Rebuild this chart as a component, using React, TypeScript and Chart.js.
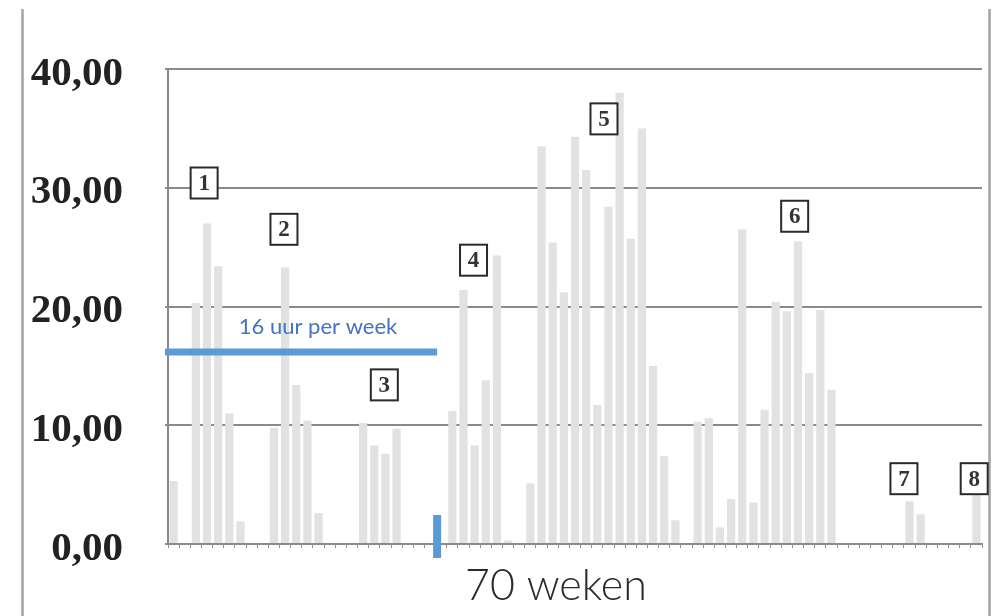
import React, { useEffect, useRef } from "react";
import { Chart, registerables } from "chart.js";

Chart.register(...registerables);

// ---- data ----
const weekLabels: string[] = Array.from({ length: 73 }, (_, i) => String(i + 1));
const hoursPerWeek: number[] = [
  5.3, 0, 20.3, 27, 23.4, 11, 1.9, 0, 0, 9.8, 23.3, 13.4, 10.4, 2.6, 0, 0, 0,
  10.2, 8.3, 7.6, 9.7, 0, 0, 0, 0, 11.2, 21.4, 8.3, 13.8, 24.3, 0.3, 0, 5.1,
  33.5, 25.4, 21.2, 34.3, 31.5, 11.7, 28.4, 38, 25.7, 35, 15, 7.4, 2, 0, 10.3,
  10.6, 1.4, 3.8, 26.5, 3.5, 11.3, 20.4, 19.6, 25.5, 14.4, 19.7, 13, 0, 0, 0,
  0, 0, 0, 3.6, 2.5, 0, 0, 0, 0, 4.4,
];
const yTicks: number[] = [0, 10, 20, 30, 40];
const markerLabels: string[] = ["1", "2", "3", "4", "5", "6", "7", "8"];
const markerWeek: number[] = [2.74, 9.9, 18.9, 26.9, 38.6, 55.7, 65.5, 71.8];
const markerHours: number[] = [30.4, 26.5, 13.4, 23.9, 35.8, 27.6, 5.5, 5.5];
const thresholdHours = 16;
const thresholdEndWeek = 23.5;
const thresholdText = "16 uur per week";
const xAxisText = "70 weken";

const overlayPlugin = {
  id: "overlay",
  afterDraw(chart: any) {
    const { ctx, chartArea } = chart;
    const xs = chart.scales.x;
    const ys = chart.scales.y;
    ctx.save();

    // frame lines of the original screenshot
    ctx.strokeStyle = "#a3a3a3";
    ctx.lineWidth = 2.5;
    ctx.beginPath();
    ctx.moveTo(22.5, 9);
    ctx.lineTo(22.5, 616);
    ctx.moveTo(989.5, 9);
    ctx.lineTo(989.5, 616);
    ctx.stroke();

    // threshold line
    const yT = ys.getPixelForValue(thresholdHours) - 2;
    const xEnd = xs.getPixelForValue(thresholdEndWeek) + 1.5;
    ctx.fillStyle = "#5b9bd5";
    ctx.fillRect(chartArea.left - 3, yT - 3.5, xEnd - chartArea.left + 3, 7);
    // vertical marker at the end
    const y0 = ys.getPixelForValue(0);
    ctx.fillRect(xEnd - 4, y0 - 29, 8, 43);

    ctx.fillStyle = "#4472c4";
    ctx.font = '22px "Lato"';
    ctx.textAlign = "center";
    ctx.textBaseline = "alphabetic";
    ctx.fillText(thresholdText, chartArea.left + 150, yT - 18);

    // x-axis caption
    ctx.fillStyle = "#2b2b2b";
    ctx.font = '300 43px "Lato"';
    ctx.fillText(xAxisText, chartArea.left + 388, y0 + 56);

    // numbered marker boxes
    ctx.font = 'bold 23px "Liberation Serif"';
    ctx.textBaseline = "middle";
    markerLabels.forEach((lab, i) => {
      const cx = xs.getPixelForValue(markerWeek[i]);
      const cy = ys.getPixelForValue(markerHours[i]);
      const w = 27;
      const h = 31;
      ctx.fillStyle = "#ffffff";
      ctx.fillRect(cx - w / 2, cy - h / 2, w, h);
      ctx.strokeStyle = "#2a2a2a";
      ctx.lineWidth = 2;
      ctx.strokeRect(cx - w / 2, cy - h / 2, w, h);
      ctx.fillStyle = "#333333";
      ctx.fillText(lab, cx, cy + 1);
    });

    ctx.restore();
  },
};

export default function App() {
  const canvasRef = useRef<HTMLCanvasElement | null>(null);

  useEffect(() => {
    if (!canvasRef.current) return;
    const chart = new Chart(canvasRef.current, {
      type: "bar",
      data: {
        labels: weekLabels,
        datasets: [
          {
            data: hoursPerWeek,
            backgroundColor: "#e2e2e2",
            borderWidth: 0,
            barPercentage: 0.74,
            categoryPercentage: 1,
          },
        ],
      },
      options: {
        responsive: false,
        animation: false,
        events: [],
        layout: { padding: { top: 69, right: 20, left: 0, bottom: 0 } },
        plugins: {
          legend: { display: false },
          tooltip: { enabled: false },
          title: { display: false },
        },
        scales: {
          x: {
            offset: true,
            grid: {
              display: true,
              drawOnChartArea: false,
              drawTicks: true,
              tickLength: 4,
              color: "#8f8f8f",
              lineWidth: 1,
            },
            border: { display: true, color: "#8a8a8a", width: 2 },
            ticks: { display: false },
            afterFit: (scale: any) => {
              scale.height = 72;
            },
          },
          y: {
            min: 0,
            max: 40,
            afterBuildTicks: (scale: any) => {
              scale.ticks = yTicks.map((v) => ({ value: v }));
            },
            grid: {
              color: "#8a8a8a",
              lineWidth: 2,
              tickLength: 3,
            },
            border: { display: true, color: "#8a8a8a", width: 2 },
            ticks: {
              color: "#222222",
              padding: 42,
              labelOffset: 5,
              font: { family: '"Liberation Serif"', size: 41, weight: "bold" },
              callback: (v: any) => Number(v).toFixed(2).replace(".", ","),
            },
            afterFit: (scale: any) => {
              scale.width = 168;
            },
          },
        },
      },
      plugins: [overlayPlugin],
    });
    return () => chart.destroy();
  }, []);

  return (
    <div style={{ position: "absolute", left: 0, top: 0, width: 1002, height: 616, background: "#ffffff" }}>
      <canvas ref={canvasRef} width={1002} height={616} style={{ display: "block" }} />
    </div>
  );
}
